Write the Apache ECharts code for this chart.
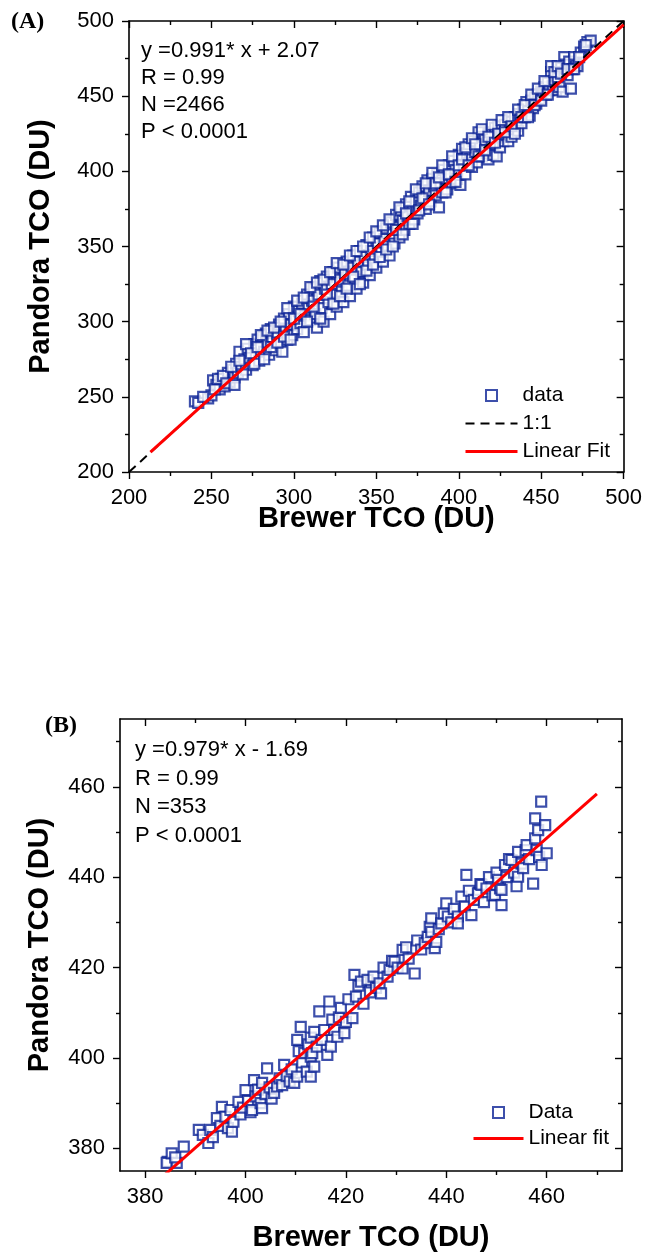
<!DOCTYPE html>
<html>
<head>
<meta charset="utf-8">
<script src="https://cdn.jsdelivr.net/npm/echarts@6/dist/echarts.min.js"></script>
<style>
  html, body { margin: 0; padding: 0; background: #fff; }
  #chart { width: 645px; height: 1257px; }
</style>
</head>
<body>
<div id="chart"></div>
<script>
// ---- panel A data (Brewer TCO, Pandora TCO) ----
var pointsA = [
  [240,247],[242,246],[248,249],[250,251],[251,261],[253,258],[255,255],[256,262],[258,257],[260,266],
  [261,260],[263,268],[264,263],[265,272],[266,266],[267,280],[268,270],[270,275],[271,268],[272,282],
  [273,276],[275,271],[276,285],[277,278],[278,288],[279,274],[280,284],[281,290],[282,280],[283,292],
  [284,286],[285,278],[286,295],[287,289],[288,283],[289,281],[290,292],[291,298],[292,286],[293,280],
  [294,302],[295,294],[296,288],[297,305],[298,298],[299,291],[300,310],[301,302],[302,295],[303,307],
  [304,299],[305,312],[306,293],[307,304],[308,318],[309,309],[310,301],[311,314],[312,322],[313,305],
  [314,296],[315,318],[316,327],[317,309],[318,300],[319,322],[320,330],[321,313],[322,305],[323,325],
  [324,333],[325,318],[326,310],[327,336],[328,328],[329,320],[330,313],[331,332],[332,340],[333,324],
  [334,317],[335,336],[336,344],[337,328],[338,322],[339,340],[340,347],[341,333],[342,326],[343,343],
  [344,351],[345,338],[346,331],[347,347],[348,356],[349,342],[350,336],[351,352],[352,359],[353,346],
  [354,340],[355,355],[356,362],[357,350],[358,344],[359,366],[360,358],[361,352],[362,371],[363,363],
  [364,356],[365,374],[366,367],[367,361],[368,378],[369,370],[370,365],[371,383],[372,374],[373,368],
  [374,380],[375,372],[376,386],[377,377],[378,390],[379,383],[380,375],[381,394],[382,387],[383,380],
  [384,395],[385,390],[386,384],[387,398],[388,376],[389,392],[390,386],[391,401],[392,395],[393,388],
  [394,404],[395,398],[396,392],[397,407],[398,401],[399,395],[400,411],[401,391],[402,415],[403,404],
  [404,398],[405,412],[406,418],[407,408],[408,403],[409,420],[410,413],[411,406],[412,426],[413,418],
  [414,410],[415,423],[416,421],[417,412],[418,408],[419,426],[420,418],[421,411],[422,429],[423,410],
  [424,430],[425,416],[426,425],[427,420],[428,431],[429,424],[430,420],[431,433],[432,423],[433,428],
  [434,436],[435,430],[436,427],[437,438],[438,432],[439,441],[440,436],[441,446],[442,440],[443,437],
  [444,447],[445,442],[446,449],[447,445],[448,451],[449,448],[450,453],[451,452],[452,456],[453,451],
  [454,459],[455,454],[456,466],[457,457],[458,460],[459,454],[460,462],[461,456],[462,469],[463,453],
  [464,476],[465,471],[466,464],[467,473],[468,455],[469,468],[470,476],[471,471],[472,470],[474,479],
  [476,483],[478,486],[480,487],
  [245,250],[252,255],[254,262],[257,264],[259,259],[262,270],[264,258],[267,274],[269,265],[271,285],
  [274,279],[276,272],[278,283],[280,291],[282,275],[284,294],[286,283],[288,296],[290,286],[292,300],
  [294,290],[296,309],[298,288],[300,302],[302,314],[304,305],[306,316],[308,300],[310,323],[312,310],
  [314,326],[316,302],[318,328],[320,318],[322,333],[324,312],[326,339],[328,317],[330,338],[332,322],
  [334,344],[336,330],[338,347],[340,325],[342,350],[344,334],[346,356],[348,338],[350,360],[352,343],
  [354,364],[356,348],[358,368],[360,350],[362,361],[364,376],[366,358],[368,372],[370,380],[372,365],
  [374,388],[376,374],[378,382],[380,392],[382,378],[384,399],[386,392],[388,396],[390,404],[392,386],
  [394,398],[396,410],[398,393],[400,404],[402,408],[404,416],[406,404],[408,422],[410,418],[412,410],
  [414,428],[416,414],[418,423],[420,431],[422,419],[424,425],[426,434],[428,426],[430,436],[432,430],
  [434,425],[436,441],[438,436],[440,444],[442,436],[444,451],[446,444],[448,455],[450,447],[452,460],
  [454,451],[456,470],[458,466],[460,470],[462,465],[466,468],[470,468],[473,476],[477,484]
];
var fitA = { slope: 0.991, intercept: 2.07 };
var fitRangeA = [213, 500];
var oneToOneA = [200, 500];
var statsA = ['y =0.991* x + 2.07', 'R = 0.99', 'N =2466', 'P < 0.0001'];
var majorA = [200, 250, 300, 350, 400, 450, 500];
var minorA = [225, 275, 325, 375, 425, 475];

// ---- panel B data ----
var pointsB = [
  [384.5,377],[384.3,376.8],[385.3,378.9],[386.3,376.8],[386,378],[387.7,380.4],[390.7,384.1],[391.5,383],
  [392.6,381.2],[393,384.1],[393.5,382.5],[394.3,386.7],[395,385],[395.3,389.2],[396,387],[396.5,384.5],
  [397.3,383.7],[397.6,385.9],[397,388.5],[398.6,390.3],[399,387.5],[399.5,389],[400,392.9],[400.5,390.5],
  [401,388],[401.3,388.5],[401.7,395.1],[402,391.5],[402.5,393],[403,390],[403.3,394.5],[403.3,388.9],
  [404,392],[404.3,397.7],[404.8,393.5],[405.2,391],[405.7,392.3],[406.3,393.7],[406.8,395.5],[407.3,394],
  [407.7,398.5],[408.2,396],[408.8,394.8],[409.2,397.5],[409.7,394.5],[410.3,395.9],[410.3,404],[410.6,401.5],
  [411,406.9],[411.3,399],[411.7,401.1],[412.2,397],[412.5,403],[413,395.9],[413,400.3],[413,404.5],
  [413.3,401.1],[413.7,398.1],[413.7,405.8],[414.2,402.5],[414.7,410.3],[415.2,404],[415.7,406.2],[416.3,400.7],
  [416.7,412.5],[417,402.5],[417.3,408.5],[417.7,406.2],[418.3,404.7],[418.6,409],[419,411.1],[419.7,405.5],
  [420,408],[420.5,413],[421.3,408.8],[421.7,418.4],[422,413.6],[422.5,416],[423,416.9],[423.5,412],
  [424.3,417.3],[424.8,414.5],[425.5,418],[426,415.5],[426.7,416.5],[427,414.3],[427.5,420],[428.3,418],
  [428.7,419.5],[429.2,421.5],[429.7,421.3],[430.3,420],[431.3,423.9],[431.3,419.8],[432,424.5],[432.5,422],
  [433.7,418.7],[434.2,426],[435,424],[435.7,425.4],[436.3,426.8],[436.7,429],[437,430.9],[437,427.9],
  [437.7,424.3],[438,425.7],[438.5,428.5],[439,429.8],[439.5,432],[440,434.2],[440.3,431.3],[441,430],
  [441.5,433],[442.3,431.3],[442.3,429.8],[443,435.7],[443.7,433.5],[444,440.5],[444.5,437],[445,431.6],
  [445.5,435],[446.3,436.4],[446.8,438.5],[447,438.3],[447.5,434.5],[448,437.5],[448.5,440],[449.2,436],
  [449.7,436.1],[450,441],[450.3,439.4],[450.7,437.5],[451,437.2],[451,433.8],[451.7,442.7],[452,440],
  [452.5,444],[453,443.8],[453.5,441],[454,438],[454.3,445.6],[454.3,440.1],[455,443],[455.3,442],
  [455.8,446],[456,447.1],[456.5,444],[457.3,438.6],[457.7,448.6],[457.7,453],[458,446],[458.3,450.4],
  [458.5,444.5],[458.9,456.7],[459,442.7],[459.7,451.5],[460,445.3]
];
var fitB = { slope: 0.979, intercept: -1.69 };
var fitRangeB = [384, 470];
var statsB = ['y =0.979* x - 1.69', 'R = 0.99', 'N =353', 'P < 0.0001'];
var majorB = [380, 400, 420, 440, 460];
var minorB = [390, 410, 430, 450, 470];

var navy = '#0c2396';
var font = 'Arial, "Liberation Sans", sans-serif';
var tickLine = { color: '#000', width: 1.4 };

function fitLine(fit, range) {
  return range.map(function (x) { return [x, fit.slope * x + fit.intercept]; });
}

// four axes per side pair: main (line+labels+major ticks), its minor ticks,
// the mirrored frame edge with inward major ticks, and its inward minor ticks
function frameAxes(grid, min, max, major, minor, isX, nameText, nameGap) {
  var pos = isX ? ['bottom', 'top'] : ['left', 'right'];
  function base(p) {
    return {
      type: 'value', gridIndex: grid, min: min, max: max, position: p,
      axisLine: { show: false, onZero: false },
      axisLabel: { show: false },
      splitLine: { show: false },
      minorTick: { show: false }
    };
  }
  var main = base(pos[0]);
  main.axisLine = { show: true, onZero: false, lineStyle: { color: '#000', width: 1.6 } };
  main.axisTick = { show: true, inside: false, length: 7, customValues: major, lineStyle: tickLine };
  main.axisLabel = { show: true, customValues: major, fontFamily: font, fontSize: 22, color: '#000', margin: 15 };
  main.name = nameText;
  main.nameLocation = 'middle';
  main.nameGap = nameGap;
  main.nameMoveOverlap = false;
  main.nameTextStyle = { fontFamily: font, fontWeight: 'bold', fontSize: 29, color: '#000' };

  var mainMinor = base(pos[0]);
  mainMinor.axisTick = { show: true, inside: false, length: 4, customValues: minor, lineStyle: tickLine };

  var mirror = base(pos[1]);
  mirror.axisLine = { show: true, onZero: false, lineStyle: { color: '#000', width: 1.6 } };
  mirror.axisTick = { show: true, inside: true, length: 7, customValues: major, lineStyle: tickLine };

  var mirrorMinor = base(pos[1]);
  mirrorMinor.axisTick = { show: true, inside: true, length: 4, customValues: minor, lineStyle: tickLine };

  return [main, mainMinor, mirror, mirrorMinor];
}

var chart = echarts.init(document.getElementById('chart'), null, { renderer: 'canvas' });

var xAxes = frameAxes(0, 200, 500, majorA, minorA, true, 'Brewer TCO (DU)', 32)
  .concat(frameAxes(1, 375, 475, majorB, minorB, true, 'Brewer TCO (DU)', 52));
var yAxes = frameAxes(0, 200, 500, majorA, minorA, false, 'Pandora TCO (DU)', 74)
  .concat(frameAxes(1, 375, 475, majorB, minorB, false, 'Pandora TCO (DU)', 66));

var legendText = { fontFamily: font, fontSize: 21, color: '#000', lineHeight: 21 };
var squareIcon = { color: '#fff', borderColor: navy, borderWidth: 2 };
// hollow square in the middle of a wide icon box (the moveTo points set the box)
function squareInBox(w, h) {
  var s = h, x0 = (w - s) / 2;
  return 'path://M0,0M' + w + ',' + h + 'M' + x0 + ',0h' + s + 'v' + s + 'h-' + s + 'z';
}

var option = {
  animation: false,
  backgroundColor: '#fff',
  grid: [
    { left: 129, top: 21, width: 496, height: 451 },
    { left: 120, top: 719, width: 502, height: 452 }
  ],
  xAxis: xAxes,
  yAxis: yAxes,
  legend: [
    {
      left: 464, top: 385, padding: 0, orient: 'vertical', itemWidth: 52, itemHeight: 11, itemGap: 7,
      textStyle: legendText,
      data: [
        { name: 'data', icon: squareInBox(52, 11), itemStyle: squareIcon },
        { name: '1:1', itemStyle: { opacity: 0 }, lineStyle: { width: 2 } },
        { name: 'Linear Fit', itemStyle: { opacity: 0 }, lineStyle: { width: 3 } }
      ]
    },
    {
      left: 472, top: 1102, padding: 0, orient: 'vertical', itemWidth: 50, itemHeight: 11, itemGap: 5,
      textStyle: legendText,
      data: [
        { name: 'Data', icon: squareInBox(50, 11), itemStyle: squareIcon },
        { name: 'Linear fit', itemStyle: { opacity: 0 }, lineStyle: { width: 3 } }
      ]
    }
  ],
  series: [
    {
      name: 'data', type: 'scatter', xAxisIndex: 0, yAxisIndex: 0,
      symbol: 'rect', symbolSize: 10,
      itemStyle: { color: '#fff', borderColor: navy, borderWidth: 2.2 },
      data: pointsA
    },
    {
      name: '1:1', type: 'line', xAxisIndex: 0, yAxisIndex: 0, symbol: 'none',
      itemStyle: { color: '#000' },
      lineStyle: { color: '#000', width: 2, type: [9, 6] },
      data: oneToOneA.map(function (v) { return [v, v]; })
    },
    {
      name: 'Linear Fit', type: 'line', xAxisIndex: 0, yAxisIndex: 0, symbol: 'none',
      itemStyle: { color: '#ff0000' },
      lineStyle: { color: '#ff0000', width: 3 },
      data: fitLine(fitA, fitRangeA)
    },
    {
      name: 'Data', type: 'scatter', xAxisIndex: 4, yAxisIndex: 4,
      symbol: 'rect', symbolSize: 10,
      itemStyle: { color: '#fff', borderColor: navy, borderWidth: 2.2 },
      data: pointsB
    },
    {
      name: 'Linear fit', type: 'line', xAxisIndex: 4, yAxisIndex: 4, symbol: 'none',
      itemStyle: { color: '#ff0000' },
      lineStyle: { color: '#ff0000', width: 3 },
      data: fitLine(fitB, fitRangeB)
    }
  ],
  graphic: [
    { type: 'text', left: 11, top: 10,
      style: { text: '(A)', font: 'bold 24px "Times New Roman", "Liberation Serif", serif', fill: '#000' } },
    { type: 'text', left: 45, top: 714,
      style: { text: '(B)', font: 'bold 24px "Times New Roman", "Liberation Serif", serif', fill: '#000' } },
    { type: 'text', left: 141, top: 37,
      style: { text: statsA.join('\n'), font: '22px ' + font, lineHeight: 27, fill: '#000' } },
    { type: 'text', left: 135, top: 736,
      style: { text: statsB.join('\n'), font: '22px ' + font, lineHeight: 28.5, fill: '#000' } }
  ]
};

chart.setOption(option);
</script>
</body>
</html>
